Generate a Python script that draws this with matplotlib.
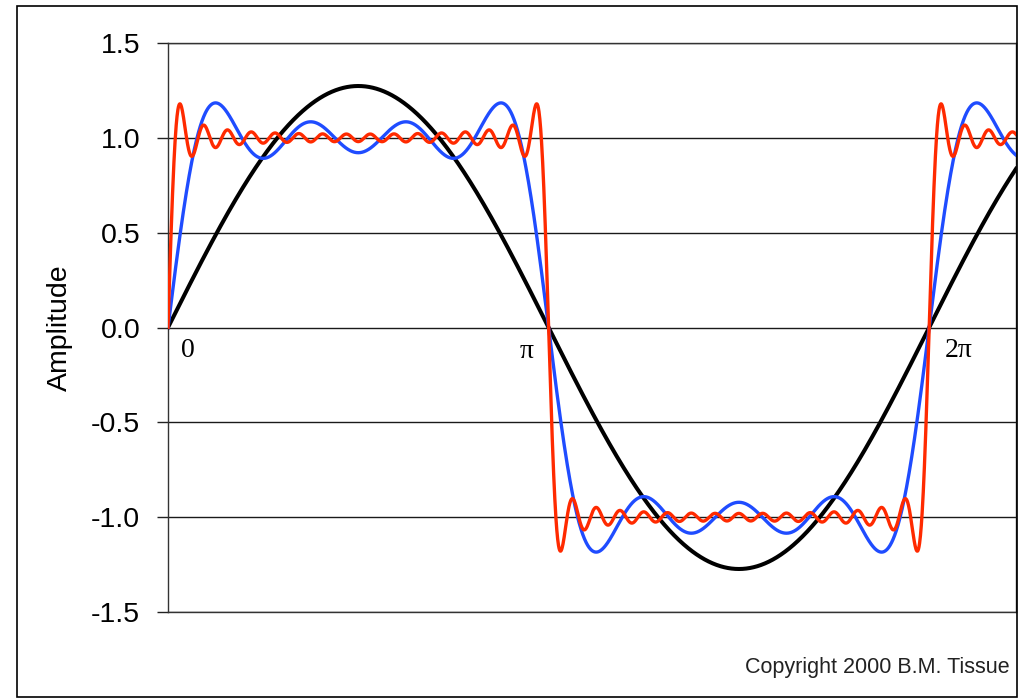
import numpy as np
import matplotlib
matplotlib.use("Agg")
import matplotlib.pyplot as plt
from matplotlib.patches import Rectangle

# ---- data ----
# Fourier partial sums of a unit square wave: number of odd harmonics used per curve
curve_names = ["1 term", "4 terms", "16 terms"]
curve_terms = [1, 4, 16]
curve_colors = ["#000000", "#1f4cff", "#ff2a00"]
x_range = [0.0, 7.0]
y_ticks = [-1.5, -1.0, -0.5, 0.0, 0.5, 1.0, 1.5]
y_tick_labels = ["-1.5", "-1.0", "-0.5", "0.0", "0.5", "1.0", "1.5"]
x_mark_labels = ["0", "\u03c0", "2\u03c0"]
x_mark_pos = [0.0, np.pi, 2 * np.pi]

x = np.linspace(x_range[0], x_range[1], 3000)

def partial_sum(n_terms):
    y = np.zeros_like(x)
    for k in range(n_terms):
        n = 2 * k + 1
        y += 4.0 / (np.pi * n) * np.sin(n * x)
    return y

W, H = 1018, 698
fig = plt.figure(figsize=(W / 100, H / 100), dpi=100)
fig.patch.set_facecolor("white")
fig.patches.append(Rectangle((17 / W, 1 / H), 1000 / W, 691 / H, transform=fig.transFigure,
                             fill=False, edgecolor="black", linewidth=1.2))

ax = fig.add_axes([168 / W, 1 - 612 / H, (1016 - 168) / W, (612 - 43) / H])
ax.set_xlim(*x_range)
ax.set_ylim(-1.5, 1.5)

for yv in y_ticks:
    ax.axhline(yv, color="#1a1a1a", linewidth=1.0, zorder=1)

for terms, col, lw in zip(curve_terms, curve_colors, [2.9, 2.4, 2.4]):
    ax.plot(x, partial_sum(terms), color=col, linewidth=lw, zorder=3, solid_joinstyle="round")

ax.set_xticks([])
ax.set_yticks(y_ticks)
ax.set_yticklabels(y_tick_labels, fontfamily="Liberation Sans", fontsize=20.5)
ax.tick_params(axis="y", length=8, width=1.0, pad=12, color="#222222")
for s in ax.spines.values():
    s.set_color("#333333")
    s.set_linewidth(1.0)

ax.set_ylabel("Amplitude", fontfamily="Liberation Sans", fontsize=20.5)
ax.yaxis.set_label_coords(-0.112, 0.5)

offsets = [(0.166, -0.119), (2.963 - np.pi, -0.127), (6.53 - 2 * np.pi, -0.119)]
for lab, pos, (dx, dy) in zip(x_mark_labels, x_mark_pos, offsets):
    ax.text(pos + dx, dy, lab, fontfamily="Liberation Serif", fontsize=20,
            ha="center", va="center", zorder=4)

fig.text(1010 / W, 1 - 667 / H, "Copyright 2000 B.M. Tissue", fontfamily="Liberation Sans",
         fontsize=15.5, ha="right", va="center", color="#222222")

fig.savefig("out.png", dpi=100)
